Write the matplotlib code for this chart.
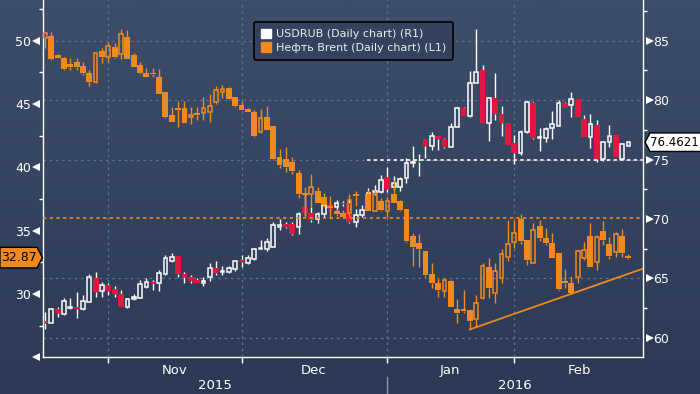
import matplotlib
matplotlib.use("Agg")
import matplotlib.pyplot as plt
import matplotlib.transforms as mtransforms
from matplotlib.patches import Patch, Polygon
from matplotlib.colors import LinearSegmentedColormap
import numpy as np

ORANGE = "#f08a1d"
RED = "#e2173d"
GRID = "#5d7492"
FONT = ["Liberation Sans Narrow", "DejaVu Sans"]

# trading day slots (Oct 19 2015 .. Feb 25 2016, no Jan 1)
day = list(range(93))

# Brent, left axis (None = no trading on that slot)
brent_open = [50.19, 50.40, 48.89, 48.66, 48.14, 48.32, 48.00, 47.47, 46.76, 49.19,
              48.69, 49.53, 48.93, 50.32, 48.87, 48.08, 47.47, 47.47, 47.11, 45.95,
              44.13, 44.68, 44.68, 43.95, 44.29, 44.31, 44.39, 45.13, 45.97, 46.26,
              45.53, 44.90, 44.63, 44.39, 42.77, 44.00, 43.26, 40.81, 40.66, 40.44,
              39.57, 37.99, 37.87, 38.13, 37.68, 36.94, 36.55, 36.41, 36.37, 37.89,
              None, 37.89, 36.57, 37.34, 36.57, 37.89, 37.34, 36.71, 34.57, 34.04,
              33.39, 31.57, 30.86, 30.25, 31.02, 28.81, 28.81, 28.73, 27.99, 29.65,
              32.10, 30.05, 31.23, 32.89, 34.08, 35.92, 34.26, 32.42, 35.36, 34.44,
              34.04, 33.26, 31.04, 30.89, 31.31, 32.81, 34.57, 32.54, 34.97, 33.94,
              33.29, 34.57, 32.99]
brent_high = [50.69, 50.69, 48.95, 48.69, 48.66, 48.61, 48.34, 47.69, 49.08, 49.45,
              49.92, 49.80, 50.90, 50.85, 49.00, 48.34, 47.82, 47.82, 47.74, 45.97,
              44.79, 45.24, 45.24, 44.74, 44.74, 45.53, 45.79, 46.45, 46.50, 46.37,
              45.53, 45.26, 44.68, 44.53, 44.58, 44.84, 43.26, 41.45, 41.63, 40.84,
              39.79, 38.47, 39.47, 38.47, 37.95, 37.73, 36.70, 36.62, 37.89, 38.15,
              None, 38.21, 38.21, 37.55, 37.68, 38.99, 37.41, 36.71, 34.79, 34.73,
              33.39, 32.42, 31.18, 31.23, 31.10, 29.60, 30.31, 28.73, 29.91, 32.42,
              32.81, 32.42, 33.52, 35.84, 35.84, 36.31, 34.26, 35.62, 35.84, 35.18,
              34.79, 33.26, 31.94, 31.41, 33.47, 34.12, 35.58, 34.65, 35.78, 34.52,
              34.91, 35.10, 33.15]
brent_low = [49.42, 48.50, 48.60, 47.69, 47.69, 47.69, 47.29, 46.45, 46.64, 48.22,
             48.34, 48.61, 48.53, 48.53, 47.95, 47.37, 47.11, 47.16, 45.79, 43.87,
             43.60, 43.21, 43.52, 43.40, 43.74, 43.74, 43.60, 44.98, 45.45, 45.32,
             44.74, 44.53, 44.37, 42.39, 42.69, 42.95, 40.58, 39.95, 39.65, 39.45,
             37.55, 36.10, 36.89, 37.15, 36.89, 35.94, 36.15, 36.00, 36.10, 36.94,
             None, 36.57, 36.57, 36.58, 36.10, 37.15, 36.58, 34.12, 32.20, 32.10,
             31.36, 30.44, 29.78, 29.78, 28.94, 27.73, 28.52, 27.20, 27.41, 29.57,
             29.65, 29.31, 30.88, 32.62, 33.60, 33.94, 32.28, 32.42, 34.20, 33.86,
             32.81, 30.31, 30.44, 29.99, 30.88, 32.68, 32.10, 31.89, 33.86, 32.76,
             32.94, 32.94, 32.76]
brent_close = [50.58, 48.56, 48.66, 47.77, 47.95, 47.95, 47.47, 46.76, 49.00, 48.74,
               49.58, 48.74, 50.51, 48.56, 47.95, 47.42, 47.16, 47.34, 45.79, 43.97,
               43.60, 44.53, 43.52, 44.13, 44.13, 44.66, 44.84, 46.10, 46.18, 45.40,
               44.86, 44.53, 44.39, 42.50, 43.87, 42.95, 40.66, 40.18, 40.02, 39.73,
               37.89, 37.81, 38.42, 37.20, 37.02, 36.78, 36.29, 36.10, 37.41, 37.76,
               None, 36.57, 37.89, 36.63, 37.34, 37.20, 36.63, 34.20, 33.73, 33.55,
               31.49, 30.89, 30.31, 31.10, 28.94, 28.52, 28.67, 27.88, 29.26, 32.20,
               30.49, 31.83, 33.15, 33.94, 34.79, 34.20, 32.68, 35.05, 34.44, 34.00,
               32.86, 30.36, 30.84, 30.05, 33.42, 33.47, 32.15, 34.52, 34.26, 33.02,
               34.73, 33.26, 32.87]

# USDRUB, right axis
rub_open = [61.43, 61.28, 62.43, 61.99, 62.49, 62.63, 62.41, 63.05, 65.02, 63.97,
            64.45, 64.09, 63.67, 62.58, 63.25, 63.38, 64.26, 64.73, 64.60, 65.35,
            66.50, 66.89, 65.38, 65.10, 64.87, 64.60, 65.15, 65.86, 65.52, 65.57,
            65.80, 66.56, 66.33, 66.64, 67.48, 67.48, 67.67, 69.36, 69.56, 69.56,
            69.36, 71.00, 70.48, 69.98, 70.42, 71.27, 71.00, 71.37, 71.33, 69.77,
            70.34, 71.60, 72.25, 72.30, 73.51, 72.67, 72.72, 73.43, 74.69, 74.88,
            76.71, 76.14, 76.98, 76.73, 76.08, 77.77, 79.31, 78.67, 81.42, 82.54,
            78.05, 80.16, 78.84, 78.05, 76.37, 75.53, 77.30, 79.74, 76.79, 76.79,
            77.63, 77.83, 79.74, 79.59, 80.07, 78.41, 76.93, 77.91, 75.05, 76.46,
            77.07, 75.02, 76.17]
rub_high = [62.21, 62.49, 62.63, 63.33, 63.33, 63.89, 63.61, 65.38, 65.57, 64.73,
            64.65, 64.37, 64.03, 63.33, 63.70, 64.87, 65.07, 64.87, 65.72, 66.97,
            67.12, 66.89, 65.57, 65.29, 65.02, 65.10, 66.28, 66.47, 66.05, 66.05,
            66.56, 66.97, 66.97, 67.54, 68.24, 68.38, 69.77, 69.98, 69.77, 69.77,
            70.57, 72.17, 71.04, 70.62, 71.60, 71.37, 71.60, 71.52, 71.60, 70.82,
            71.18, 72.59, 72.86, 73.70, 74.35, 73.65, 73.56, 75.11, 76.14, 75.47,
            76.73, 77.35, 76.98, 76.79, 78.05, 79.40, 79.40, 82.48, 85.98, 82.96,
            80.29, 82.31, 79.51, 78.05, 77.07, 77.49, 79.95, 79.87, 77.63, 77.77,
            79.11, 80.01, 79.87, 80.71, 80.07, 78.75, 78.84, 78.33, 76.51, 77.91,
            77.07, 76.37, 76.51]
rub_low = [60.75, 61.28, 61.79, 61.93, 62.41, 61.65, 62.35, 63.05, 63.47, 63.47,
           63.61, 63.47, 62.58, 62.49, 63.19, 63.38, 64.18, 64.03, 63.97, 65.29,
           66.41, 65.10, 64.65, 64.65, 64.60, 64.37, 64.82, 65.29, 65.29, 65.49,
           65.66, 66.00, 66.19, 66.56, 67.48, 67.34, 67.67, 69.08, 69.22, 68.66,
           68.74, 70.34, 69.77, 69.64, 70.20, 70.76, 70.76, 71.10, 69.64, 69.36,
           70.20, 71.18, 72.02, 72.17, 72.30, 72.44, 72.38, 73.06, 74.35, 73.62,
           75.11, 75.81, 75.81, 75.95, 76.08, 77.72, 78.69, 78.61, 81.42, 78.10,
           76.59, 78.33, 77.01, 76.23, 74.63, 75.39, 77.21, 76.71, 75.75, 76.51,
           76.71, 77.83, 79.31, 78.56, 78.56, 76.88, 75.95, 74.82, 74.91, 76.08,
           75.19, 74.97, 76.17]
rub_close = [61.28, 62.43, 62.12, 63.11, 62.63, 62.41, 63.11, 65.15, 63.89, 64.45,
             63.97, 63.67, 62.63, 63.25, 63.47, 64.54, 64.73, 64.60, 65.44, 66.75,
             66.83, 65.38, 65.15, 64.82, 64.60, 64.79, 65.86, 65.49, 65.63, 65.86,
             66.47, 66.41, 66.75, 67.48, 67.59, 68.05, 69.50, 69.44, 69.36, 68.74,
             70.42, 70.48, 69.92, 70.40, 71.18, 70.85, 71.37, 71.27, 69.77, 70.34,
             70.76, 72.22, 72.36, 73.28, 72.53, 73.01, 73.37, 74.69, 74.80, 74.77,
             76.14, 76.98, 76.73, 76.03, 77.72, 79.31, 78.69, 81.42, 82.39, 78.10,
             80.16, 78.81, 78.05, 76.23, 75.53, 77.35, 79.82, 76.79, 76.93, 77.55,
             77.97, 79.74, 79.31, 80.07, 78.56, 76.93, 77.97, 75.02, 76.46, 77.01,
             75.19, 76.31, 76.4621]

month_ticks = [10, 31, 54, 74]
month_names = ["Nov", "Dec", "Jan", "Feb"]
month_label_x = [20.4, 42.3, 63.8, 84.3]
years = ["2015", "2016"]
year_label_x = [26.8, 74.1]
year_split = 53.9

# support line under Brent lows
trend_x = [67, 94.3]
trend_y = [27.2, 32.0]


def draw_candles(ax, x, o, h, l, c, up_col, down_col, wick_col, z, min_h):
    for xi, oi, hi, li, ci in zip(x, o, h, l, c):
        if oi is None:
            continue
        top = max(oi, ci)
        bot = min(oi, ci)
        if top - bot < min_h:
            mid = (top + bot) / 2
            top, bot = mid + min_h / 2, mid - min_h / 2
        ax.vlines(xi, top, max(hi, top), color=wick_col, lw=1.0, zorder=z)
        ax.vlines(xi, min(li, bot), bot, color=wick_col, lw=1.0, zorder=z)
        if ci >= oi:
            ax.bar(xi, top - bot, 0.58, bottom=bot, facecolor="none",
                   edgecolor=up_col, lw=1.1, zorder=z + 1)
        else:
            ax.bar(xi, top - bot, 0.92, bottom=bot, color=down_col, lw=0,
                   zorder=z + 1)


fig = plt.figure(figsize=(7, 3.94), dpi=100)

# background gradient for whole picture
bg = fig.add_axes([0, 0, 1, 1], zorder=0)
cmap = LinearSegmentedColormap.from_list("bg", ["#2b3955", "#3e4d69"])
bg.imshow(np.linspace(0, 1, 256).reshape(-1, 1), cmap=cmap, aspect="auto",
          origin="lower", extent=[0, 1, 0, 1])
bg.axis("off")

pos = [43 / 700, 1 - 357.3 / 394, 600 / 700, 357.3 / 394]
ax2 = fig.add_axes(pos, zorder=1)
ax = fig.add_axes(pos, zorder=2, sharex=ax2)
for a in (ax, ax2):
    a.patch.set_visible(False)

ax.set_xlim(-0.3, 94.3)
ax.set_ylim(25.0, 53.215)
ax2.set_ylim(58.37, 88.42)

# grid (on right axis scale)
for g in [60, 65, 75, 80, 85]:
    ax2.axhline(g, color=GRID, lw=0.9, ls=(0, (2, 3)), zorder=0)
for m in month_ticks:
    ax2.axvline(m, color=GRID, lw=0.9, ls=(0, (2, 3)), zorder=0)

draw_candles(ax2, day, rub_open, rub_high, rub_low, rub_close,
             "white", RED, "white", 2, 0.12)
draw_candles(ax, day, brent_open, brent_high, brent_low, brent_close,
             ORANGE, ORANGE, ORANGE, 2, 0.1)

ax.axhline(36.0, color=ORANGE, lw=1.2, ls=(0, (2, 2)), zorder=5)
ax2.hlines(75, 50.8, 94.3, color="white", lw=1.2, ls=(0, (2, 2)), zorder=5)
ax.plot(trend_x, trend_y, color=ORANGE, lw=1.3, zorder=5, clip_on=True)

# spines
for a in (ax, ax2):
    for s in a.spines.values():
        s.set_visible(False)
ax.spines["left"].set_visible(True)
ax.spines["bottom"].set_visible(True)
ax2.spines["right"].set_visible(True)
for s in (ax.spines["left"], ax.spines["bottom"], ax2.spines["right"]):
    s.set_color("white")
    s.set_linewidth(1.0)

# y ticks
ax.set_yticks([30, 35, 40, 45, 50])
ax.set_yticks(np.arange(27.5, 53, 5), minor=True)
ax.tick_params(axis="y", which="major", length=0, pad=8.5, labelcolor="white",
               labelsize=9)
ax.tick_params(axis="y", which="minor", length=3, width=1, color="white")
ax2.set_yticks([60, 65, 70, 75, 80, 85])
ax2.set_yticks(np.arange(62.5, 88, 5), minor=True)
ax2.tick_params(axis="y", which="major", length=0, pad=7.5, labelcolor="white",
                labelsize=9, left=False, labelleft=False, right=True,
                labelright=True)
ax2.tick_params(axis="y", which="minor", length=3, width=1, color="white",
                left=False, right=True)
for t in ax.get_yticklabels() + ax2.get_yticklabels():
    t.set_fontfamily(FONT)

tl = mtransforms.blended_transform_factory(ax.transAxes, ax.transData)
ax.plot([-0.012] * 6, [25, 30, 35, 40, 45, 50], ls="none", marker="<",
        ms=5.5, color="white", mew=0, transform=tl, clip_on=False, zorder=6)
tr = mtransforms.blended_transform_factory(ax2.transAxes, ax2.transData)
ax2.plot([1.012] * 6, [60, 65, 70, 75, 80, 85], ls="none", marker=">",
         ms=5.5, color="white", mew=0, transform=tr, clip_on=False, zorder=6)

# x axis: month ticks, labels, years
ax.set_xticks(month_ticks)
ax.set_xticklabels([])
ax.tick_params(axis="x", length=4.5, width=1, color="white")
ax2.tick_params(axis="x", length=0, labelbottom=False)
tx = mtransforms.blended_transform_factory(ax.transData, ax.transAxes)
for xm, name in zip(month_label_x, month_names):
    ax.text(xm, -0.038, name, transform=tx, ha="center", va="center",
            color="white", fontsize=9.5, family=FONT)
for xy, name in zip(year_label_x, years):
    ax.text(xy, -0.08, name, transform=tx, ha="center", va="center",
            color="white", fontsize=9.5, family=FONT)
ax.plot([year_split, year_split], [-0.054, -0.11], color="#8d99ad", lw=1,
        transform=tx, clip_on=False)

# last value tags
h_l = 10.3 / 12.66
v = brent_close[-1]
ax.add_patch(Polygon([(-0.0717, v + h_l), (-0.010, v + h_l), (-0.001, v),
                      (-0.010, v - h_l), (-0.0717, v - h_l)], closed=True,
                     facecolor=ORANGE, edgecolor="black", lw=1,
                     transform=tl, clip_on=False, zorder=7))
ax.text(-0.040, v, f"{v:.2f}", transform=tl, ha="center", va="center",
        color="black", fontsize=9, family=FONT, zorder=8)
h_r = 9.25 / 11.89
u = rub_close[-1]
ax.add_patch(Polygon([(1.0035, u), (1.0117, u + h_r), (1.1, u + h_r),
                      (1.1, u - h_r), (1.0117, u - h_r)], closed=True,
                     facecolor="white", edgecolor="black", lw=1,
                     transform=tr, clip_on=False, zorder=7))
ax.text(1.0525, u, f"{u:.4f}", transform=tr, ha="center", va="center",
        color="black", fontsize=8.5, family=FONT, zorder=8)

# legend
handles = [Patch(facecolor="white", edgecolor="white"),
           Patch(facecolor=ORANGE, edgecolor=ORANGE)]
labels = ["USDRUB (Daily chart) (R1)", "Нефть Brent (Daily chart) (L1)"]
leg = ax.legend(handles, labels, loc="upper left",
                bbox_to_anchor=(254 / 700, 1 - 22 / 394),
                bbox_transform=fig.transFigure, borderaxespad=0,
                prop={"family": FONT, "size": 8}, handlelength=0.9,
                handleheight=0.9, handletextpad=0.5, labelspacing=0.3,
                borderpad=0.6, fancybox=True, framealpha=1)
leg.get_frame().set_facecolor("#34425d")
leg.get_frame().set_edgecolor("black")
leg.get_frame().set_linewidth(1.2)
for t in leg.get_texts():
    t.set_color("#e9edf2")
leg.set_zorder(10)

fig.savefig("out.png", dpi=100, facecolor="#2b3955")
